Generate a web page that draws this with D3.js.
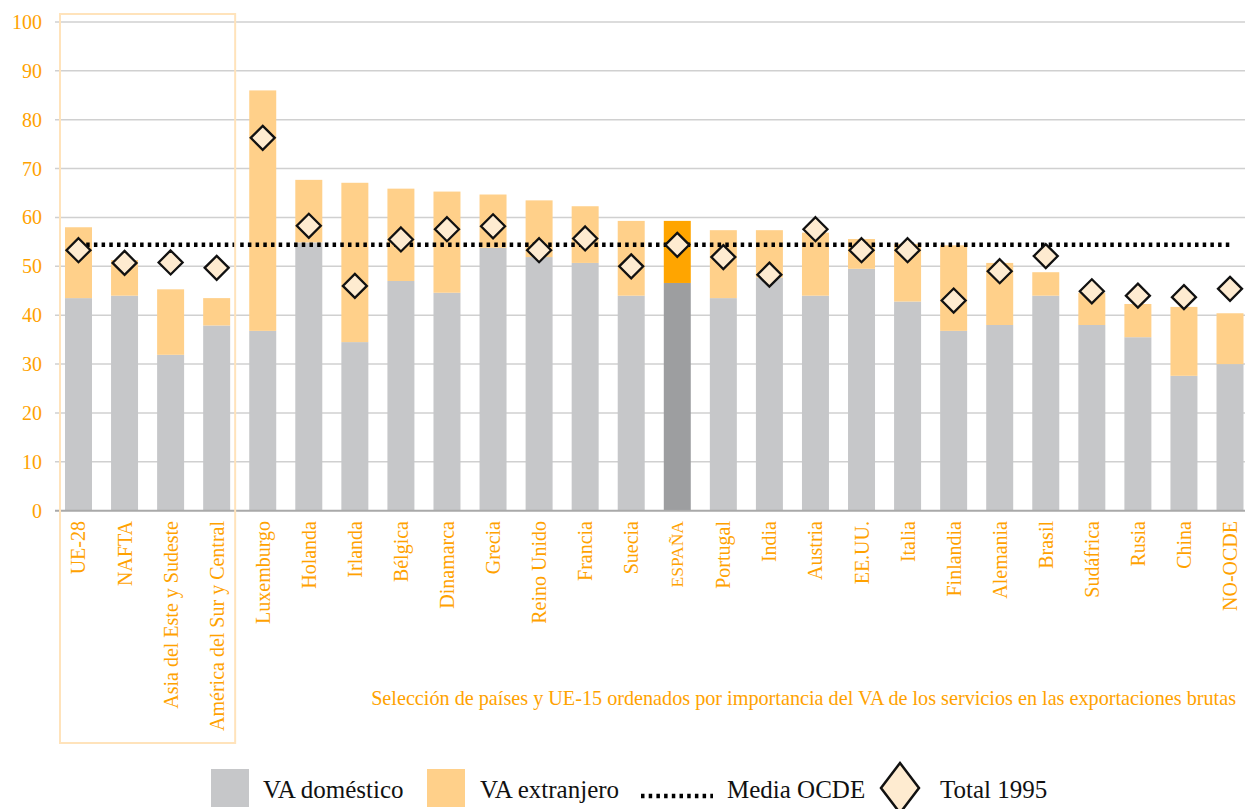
<!DOCTYPE html>
<html>
<head>
<meta charset="utf-8">
<script src="https://cdn.jsdelivr.net/npm/d3@7"></script>
<style>
  html, body { margin: 0; padding: 0; background: #fff; }
  svg { display: block; }
  text { font-family: "Liberation Serif", "DejaVu Serif", serif; }
</style>
</head>
<body>
<svg id="chart" width="1245" height="809"></svg>
<script>
// Categories: regional aggregates first, then countries ordered by services VA share
const categories = [
  "UE-28", "NAFTA", "Asia del Este y Sudeste", "América del Sur y Central",
  "Luxemburgo", "Holanda", "Irlanda", "Bélgica", "Dinamarca", "Grecia",
  "Reino Unido", "Francia", "Suecia", "ESPAÑA", "Portugal", "India",
  "Austria", "EE.UU.", "Italia", "Finlandia", "Alemania", "Brasil",
  "Sudáfrica", "Rusia", "China", "NO-OCDE"
];

// Domestic value added (% of gross exports)
const vaDomestico = [
  43.5, 44.0, 31.9, 37.9,
  36.8, 54.9, 34.5, 47.0, 44.6, 53.8,
  51.9, 50.7, 44.0, 46.6, 43.5, 47.7,
  44.0, 49.5, 42.8, 36.8, 38.0, 44.0,
  38.0, 35.5, 27.6, 30.0
];

// Foreign value added (% of gross exports)
const vaExtranjero = [
  14.5, 7.3, 13.4, 5.6,
  49.2, 12.8, 32.6, 18.9, 20.7, 10.9,
  11.6, 11.6, 15.3, 12.7, 13.9, 9.7,
  12.9, 6.1, 11.8, 17.5, 12.7, 4.8,
  6.6, 6.8, 14.1, 10.4
];

// Total in 1995
const total1995 = [
  53.3, 50.7, 50.8, 49.7,
  76.3, 58.3, 46.0, 55.5, 57.6, 58.2,
  53.3, 55.7, 50.0, 54.4, 51.9, 48.3,
  57.6, 53.3, 53.3, 43.0, 49.0, 52.1,
  44.9, 44.0, 43.7, 45.4
];

// OECD average
const mediaOCDE = 54.4;

const yTicks = [0, 10, 20, 30, 40, 50, 60, 70, 80, 90, 100];

const highlight = "ESPAÑA";
const nAggregates = 4;

const subtitle = "Selección de países y UE-15 ordenados por importancia del VA de los servicios en las exportaciones brutas";

const legendItems = [
  { key: "dom", label: "VA doméstico" },
  { key: "ext", label: "VA extranjero" },
  { key: "avg", label: "Media OCDE" },
  { key: "t95", label: "Total 1995" }
];

// ---- styling ----
const C = {
  dom: "#c6c7c9",
  ext: "#ffd08a",
  domHi: "#9d9ea0",
  extHi: "#ffa500",
  text: "#ffa200",
  grid: "#d0d0d0",
  axis: "#a9a9a9",
  box: "#ffe3bb",
  diamondFill: "#feebd0",
  diamondStroke: "#111111"
};

const svg = d3.select("#chart");
const W = 1245, H = 809;

const y = d3.scaleLinear().domain([0, 100]).range([510.7, 22]);
const x = d3.scaleBand()
  .domain(categories)
  .range([55, 1253.5])
  .paddingInner(0.414)
  .paddingOuter(0.217);

const rows = categories.map((c, i) => ({
  cat: c,
  dom: vaDomestico[i],
  ext: vaExtranjero[i],
  t95: total1995[i]
}));

// gridlines
const grid = svg.append("g");
grid.selectAll("line")
  .data(yTicks.filter(d => d > 0))
  .join("line")
  .attr("x1", 55).attr("x2", W)
  .attr("y1", d => y(d)).attr("y2", d => y(d))
  .attr("stroke", C.grid)
  .attr("stroke-width", 1.5);

// y axis labels
const yAxis = d3.axisLeft(y).tickValues(yTicks).tickSize(0).tickPadding(0);
const yg = svg.append("g").attr("transform", "translate(42,0)").call(yAxis);
yg.select(".domain").remove();
yg.selectAll("text")
  .attr("fill", C.text)
  .attr("font-size", 20)
  .attr("font-family", "Liberation Serif, serif");

// bars: domestic + foreign stacked
const bars = svg.append("g");
bars.selectAll("rect.dom")
  .data(rows)
  .join("rect")
  .attr("class", "dom")
  .attr("x", d => x(d.cat))
  .attr("width", x.bandwidth())
  .attr("y", d => y(d.dom))
  .attr("height", d => y(0) - y(d.dom))
  .attr("fill", d => d.cat === highlight ? C.domHi : C.dom);

bars.selectAll("rect.ext")
  .data(rows)
  .join("rect")
  .attr("class", "ext")
  .attr("x", d => x(d.cat))
  .attr("width", x.bandwidth())
  .attr("y", d => y(d.dom + d.ext))
  .attr("height", d => y(d.dom) - y(d.dom + d.ext))
  .attr("fill", d => d.cat === highlight ? C.extHi : C.ext);

// zero axis
svg.append("line")
  .attr("x1", 55).attr("x2", W)
  .attr("y1", y(0)).attr("y2", y(0))
  .attr("stroke", C.axis)
  .attr("stroke-width", 2);

// OECD average dotted line
const cx = d => x(d) + x.bandwidth() / 2;
svg.append("line")
  .attr("x1", cx(categories[0]))
  .attr("x2", cx(categories[categories.length - 1]))
  .attr("y1", y(mediaOCDE)).attr("y2", y(mediaOCDE))
  .attr("stroke", "#000")
  .attr("stroke-width", 4.5)
  .attr("stroke-dasharray", "3.5,4.2");

// 1995 diamonds
const diamond = (hw, hh) => `M0,${-hh}L${hw},0L0,${hh}L${-hw},0Z`;
svg.append("g").selectAll("path")
  .data(rows)
  .join("path")
  .attr("d", diamond(12, 12))
  .attr("transform", d => `translate(${cx(d.cat)},${y(d.t95)})`)
  .attr("fill", C.diamondFill)
  .attr("stroke", C.diamondStroke)
  .attr("stroke-width", 2.3)
  .attr("stroke-linejoin", "miter");

// frame around the regional aggregates
const aggFirst = categories[0], aggLast = categories[nAggregates - 1];
const boxL = x(aggFirst) - 5;
const boxR = x(aggLast) + x.bandwidth() + 5;
svg.append("rect")
  .attr("x", boxL)
  .attr("y", 14)
  .attr("width", boxR - boxL)
  .attr("height", 729)
  .attr("fill", "none")
  .attr("stroke", C.box)
  .attr("stroke-width", 2);

// category labels (rotated)
svg.append("g").selectAll("text")
  .data(categories)
  .join("text")
  .attr("transform", d => `translate(${cx(d)},521) rotate(-90)`)
  .attr("text-anchor", "end")
  .attr("dy", "0.35em")
  .attr("font-size", d => d === highlight ? 17.5 : 20)
  .attr("fill", C.text)
  .text(d => d);

// subtitle
svg.append("text")
  .attr("x", 1236)
  .attr("y", 705)
  .attr("text-anchor", "end")
  .attr("font-size", 20.2)
  .attr("fill", C.text)
  .text(subtitle);

// legend
const lg = svg.append("g");
const legendX = { dom: 211, ext: 427, avg: 641, t95: 881 };
const textX = { dom: 263, ext: 480, avg: 727, t95: 940 };
legendItems.forEach(it => {
  const x0 = legendX[it.key];
  if (it.key === "dom" || it.key === "ext") {
    lg.append("rect")
      .attr("x", x0).attr("y", 769)
      .attr("width", 38).attr("height", 38)
      .attr("fill", it.key === "dom" ? C.dom : C.ext);
  } else if (it.key === "avg") {
    lg.append("line")
      .attr("x1", x0).attr("x2", x0 + 72)
      .attr("y1", 796).attr("y2", 796)
      .attr("stroke", "#000")
      .attr("stroke-width", 4.5)
      .attr("stroke-dasharray", "3.5,4.2");
  } else {
    lg.append("path")
      .attr("d", diamond(19, 25))
      .attr("transform", `translate(${x0 + 19},788)`)
      .attr("fill", C.diamondFill)
      .attr("stroke", C.diamondStroke)
      .attr("stroke-width", 2.5);
  }
  lg.append("text")
    .attr("x", textX[it.key])
    .attr("y", 798)
    .attr("font-size", 25)
    .attr("fill", "#111")
    .text(it.label);
});
</script>
</body>
</html>
